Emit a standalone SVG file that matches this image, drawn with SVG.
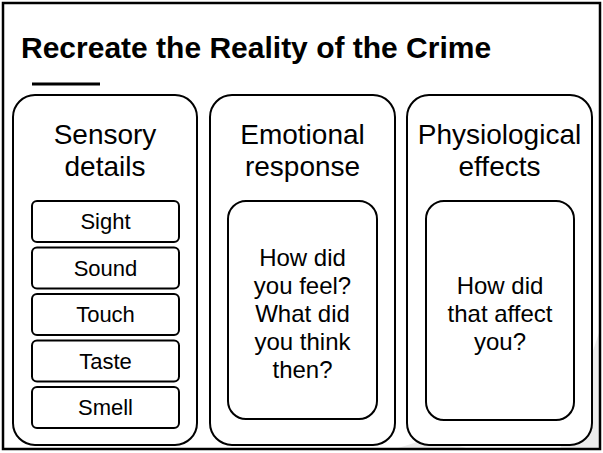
<svg xmlns="http://www.w3.org/2000/svg" width="603" height="453" viewBox="0 0 603 453">
<style>
  .frame{fill:none;stroke:#000;stroke-width:2.5}
  .col{fill:#fff;stroke:#000;stroke-width:2}
  .box{fill:#fff;stroke:#000;stroke-width:2}
  text{font-family:"Liberation Sans",Arial,sans-serif;fill:#000}
  .title{font-weight:bold;font-size:30px}
  .head{font-size:28px;text-anchor:middle}
  .item{font-size:22px;text-anchor:middle}
  .body{font-size:24px;text-anchor:middle}
</style>
<rect width="603" height="453" fill="#fff"/>
<g id="background">
  <polygon points="600,330 600,449 560,449" fill="#ececec"/>
  <polygon points="395,449 430,438 470,449" fill="#ececec"/>
</g>
<rect class="frame" x="3" y="3" width="597" height="446"/>
<g id="title">
  <text class="title" x="21" y="58">Recreate the Reality of the Crime</text>
  <line x1="32" y1="84" x2="100" y2="84" stroke="#000" stroke-width="3"/>
</g>
<g id="sensory">
  <rect class="col" x="13" y="95" width="184" height="350" rx="22"/>
  <text class="head" x="105" y="144">Sensory</text>
  <text class="head" x="105" y="175.5">details</text>
  <g id="sight"><rect class="box" x="32" y="201" width="147" height="41" rx="5"/><text class="item" x="105.5" y="229">Sight</text></g>
  <g id="sound"><rect class="box" x="32" y="247.5" width="147" height="41" rx="5"/><text class="item" x="105.5" y="275.5">Sound</text></g>
  <g id="touch"><rect class="box" x="32" y="294" width="147" height="41" rx="5"/><text class="item" x="105.5" y="322">Touch</text></g>
  <g id="taste"><rect class="box" x="32" y="340.5" width="147" height="41" rx="5"/><text class="item" x="105.5" y="368.5">Taste</text></g>
  <g id="smell"><rect class="box" x="32" y="387" width="147" height="41" rx="5"/><text class="item" x="105.5" y="415">Smell</text></g>
</g>
<g id="emotional">
  <rect class="col" x="210" y="95" width="185" height="350" rx="22"/>
  <text class="head" x="302.5" y="144">Emotional</text>
  <text class="head" x="302.5" y="175.5">response</text>
  <rect class="box" x="228" y="201" width="149" height="218" rx="18"/>
  <text class="body" x="302.5" y="266">How did</text>
  <text class="body" x="302.5" y="294">you feel?</text>
  <text class="body" x="302.5" y="322">What did</text>
  <text class="body" x="302.5" y="350">you think</text>
  <text class="body" x="302.5" y="378">then?</text>
</g>
<g id="physiological">
  <rect class="col" x="407" y="95" width="185" height="350" rx="22"/>
  <text class="head" x="499.5" y="144">Physiological</text>
  <text class="head" x="499.5" y="175.5">effects</text>
  <rect class="box" x="426" y="201" width="148" height="219" rx="18"/>
  <text class="body" x="500" y="294">How did</text>
  <text class="body" x="500" y="322">that affect</text>
  <text class="body" x="500" y="350">you?</text>
</g>
<g id="connectors"></g>
</svg>
